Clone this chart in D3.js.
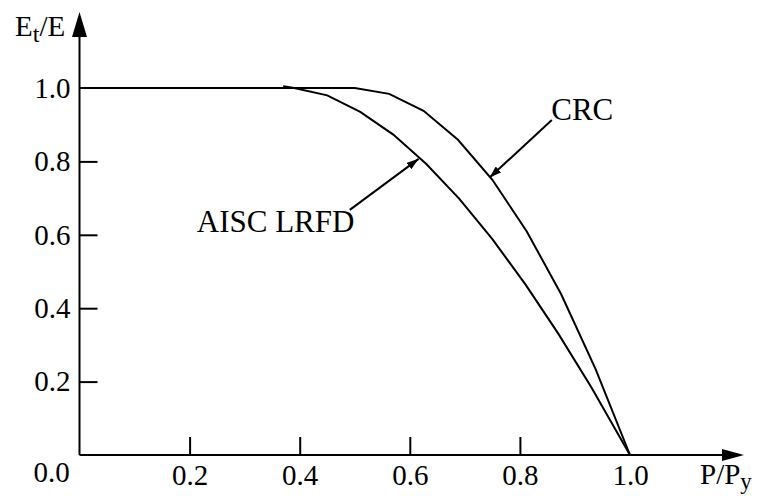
<!DOCTYPE html>
<meta charset="utf-8">
<head>
    <script src="https://d3js.org/d3.v7.min.js"></script>
    <style>
        body { margin: 0; background: #fff; }
        svg text { font-family: "Liberation Serif", "Times New Roman", Times, serif; fill: #000; }
    </style>
</head>
<body>
<div id="chart"></div>
<script>
    // P/Py and Et/E (polyline vertices)
    const aiscP  = [0.37, 0.39, 0.45, 0.51, 0.57, 0.63, 0.69, 0.75, 0.81, 0.87, 0.93, 1.00]
    const aiscEt = [1.005, 1.00, 0.98, 0.935, 0.873, 0.793, 0.698, 0.588, 0.465, 0.330, 0.184, 0.0]

    const crcP  = [0.0, 0.50, 0.5625, 0.625, 0.6875, 0.75, 0.8125, 0.875, 0.9375, 1.00]
    const crcEt = [1.0, 1.00, 0.984, 0.938, 0.859, 0.75, 0.609, 0.438, 0.234, 0.0]

    const xTicks = [0.2, 0.4, 0.6, 0.8, 1.0]
    const yTicks = [0.2, 0.4, 0.6, 0.8, 1.0]

    const width = 761, height = 496

    const svg = d3.select("#chart").append("svg")
        .attr("width", width)
        .attr("height", height)
        .attr("font-family", "'Liberation Serif', serif")

    const x = d3.scaleLinear().domain([0, 1]).range([79.5, 630])
    const y = d3.scaleLinear().domain([0, 1]).range([455, 88])

    const fs = "29px"

    // x axis ticks + labels
    const bottomAxis = d3.axisBottom(x).tickValues(xTicks).tickSize(-18).tickPadding(9)
        .tickFormat(d3.format(".1f"))
    const gx = svg.append("g")
        .attr("transform", `translate(0, ${y(0)})`)
        .call(bottomAxis)
        .attr("font-family", null)
    gx.select(".domain").remove()
    gx.selectAll("line").attr("stroke", "#000").attr("stroke-width", 2)
        .filter(d => d === 1.0).remove()
    gx.selectAll("text").style("font-size", fs)

    // y axis ticks + labels
    const leftAxis = d3.axisLeft(y).tickValues(yTicks).tickSize(-18).tickPadding(9)
        .tickFormat(d3.format(".1f"))
    const gy = svg.append("g")
        .attr("transform", `translate(${x(0)}, 0)`)
        .call(leftAxis)
        .attr("font-family", null)
    gy.select(".domain").remove()
    gy.selectAll("line").attr("stroke", "#000").attr("stroke-width", 2)
        .filter(d => d === 1.0).remove()
    gy.selectAll("text").style("font-size", fs)

    // origin label
    svg.append("text")
        .attr("x", x(0) - 28)
        .attr("y", y(0) + 27)
        .attr("text-anchor", "middle")
        .style("font-size", fs)
        .text("0.0")

    // axis lines with arrows
    svg.append("line")
        .attr("x1", x(0)).attr("y1", y(0))
        .attr("x2", 725).attr("y2", y(0))
        .attr("stroke", "#000").attr("stroke-width", 2)
    svg.append("path")
        .attr("d", `M722,${y(0) - 6}L744,${y(0)}L722,${y(0) + 6}Z`)
        .attr("fill", "#000")

    svg.append("line")
        .attr("x1", x(0)).attr("y1", y(0))
        .attr("x2", x(0)).attr("y2", 30)
        .attr("stroke", "#000").attr("stroke-width", 2)
    svg.append("path")
        .attr("d", `M${x(0) - 7.5},37L${x(0)},12L${x(0) + 7.5},37Z`)
        .attr("fill", "#000")

    // axis titles
    const yt = svg.append("text").attr("x", 15).attr("y", 36).style("font-size", fs)
    yt.append("tspan").text("E")
    yt.append("tspan").attr("dy", 6).style("font-size", "24px").text("t")
    yt.append("tspan").attr("dy", -6).text("/E")

    const xt = svg.append("text").attr("x", 700).attr("y", 484).style("font-size", fs)
    xt.append("tspan").text("P/P")
    xt.append("tspan").attr("dy", 5).style("font-size", "23px").text("y")

    // curves
    const line = d3.line().x(d => x(d[0])).y(d => y(d[1]))

    svg.append("path")
        .datum(crcP.map((p, i) => [p, crcEt[i]]))
        .attr("fill", "none")
        .attr("stroke", "#000")
        .attr("stroke-width", 2)
        .attr("d", line)

    svg.append("path")
        .datum(aiscP.map((p, i) => [p, aiscEt[i]]))
        .attr("fill", "none")
        .attr("stroke", "#000")
        .attr("stroke-width", 2)
        .attr("d", line)

    // annotation arrows
    svg.append("defs").append("marker")
        .attr("id", "arr")
        .attr("viewBox", "0 0 12 8")
        .attr("refX", 12).attr("refY", 4)
        .attr("markerWidth", 12).attr("markerHeight", 8)
        .attr("markerUnits", "userSpaceOnUse")
        .attr("orient", "auto")
        .append("path")
        .attr("d", "M0,0L12,4L0,8Z")
        .attr("fill", "#000")

    const notes = [
        { label: "CRC", tx: 0.857, ty: 0.912, sx: 0.858, sy: 0.913, ex: 0.745, ey: 0.756, fsz: "31px" },
        { label: "AISC LRFD", tx: 0.213, ty: 0.608, sx: 0.491, sy: 0.668, ex: 0.616, ey: 0.807, fsz: "31px" }
    ]

    notes.forEach(n => {
        svg.append("line")
            .attr("x1", x(n.sx)).attr("y1", y(n.sy))
            .attr("x2", x(n.ex)).attr("y2", y(n.ey))
            .attr("stroke", "#000").attr("stroke-width", 2)
            .attr("marker-end", "url(#arr)")
        svg.append("text")
            .attr("x", x(n.tx)).attr("y", y(n.ty))
            .style("font-size", n.fsz)
            .text(n.label)
    })
</script>
</body>
